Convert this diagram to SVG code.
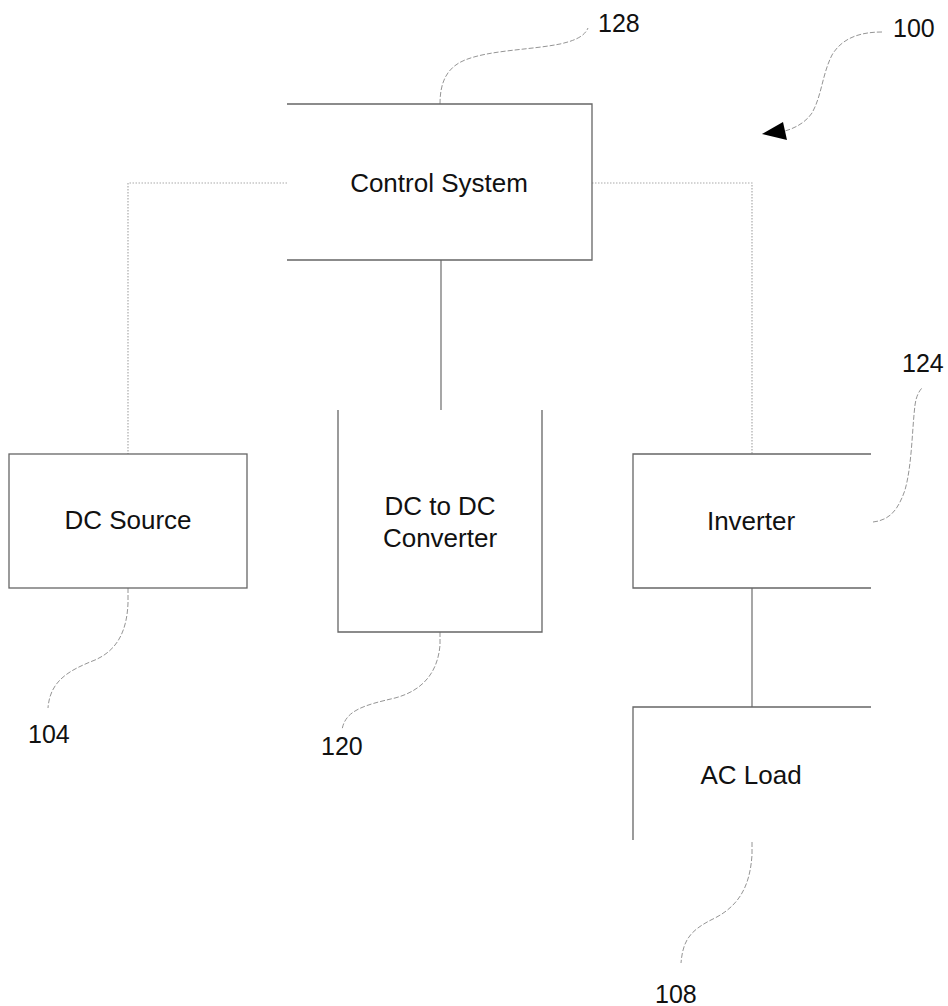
<svg xmlns="http://www.w3.org/2000/svg" width="948" height="1006" viewBox="0 0 948 1006">
<style>
.edge{fill:none;stroke:#666;stroke-width:1.3}
.lbl{font-family:"Liberation Sans",Arial,sans-serif;font-size:26px;fill:#111;text-anchor:middle}
.num{font-family:"Liberation Sans",Arial,sans-serif;font-size:25px;fill:#111}
.dot{fill:none;stroke:#aaa;stroke-width:1.2;stroke-dasharray:1.5,1.5}
.solid{fill:none;stroke:#777;stroke-width:1.3}
.lead{fill:none;stroke:#888;stroke-width:0.9;stroke-dasharray:5,2}
</style>
<rect width="948" height="1006" fill="#fff"/>
<g id="connectors">
<path class="dot" d="M287,183 H128 V454"/>
<path class="dot" d="M592,183 H752 V454"/>
<path class="solid" d="M441,260 V410"/>
<path class="solid" d="M752,588 V707"/>
<path class="lead" d="M440,104 C440,85 445,68 465,60 C490,50 530,50 560,44 C578,40 585,35 588,28"/>
<path class="lead" d="M882,32 C860,32 842,38 832,55 C822,75 822,95 812,113 C805,123 795,128 785,131"/>
<polygon points="762,134 783,122 787,140" fill="#000"/>
<path class="lead" d="M873,522 C890,520 898,510 905,490 C912,465 912,430 915,405 C916,397 919,391 922,388"/>
<path class="lead" d="M128,588 L128,603 C127,630 118,650 95,660 C70,670 50,680 48,708"/>
<path class="lead" d="M440,632 L440,645 C438,670 425,690 395,698 C365,705 345,710 342,730"/>
<path class="lead" d="M752,842 L752,855 C750,885 740,905 715,918 C690,930 683,940 681,963"/>
</g>
<g id="control-system">
<path class="edge" d="M287,104 H592 V260 H287"/>
<text class="lbl" x="439" y="192">Control System</text>
<text class="num" x="598" y="32">128</text>
</g>
<g id="system-100">
<text class="num" x="893" y="37">100</text>
</g>
<g id="dc-source">
<rect class="edge" x="9" y="454" width="238" height="134"/>
<text class="lbl" x="128" y="529">DC Source</text>
<text class="num" x="28" y="743">104</text>
</g>
<g id="dc-dc-converter">
<path class="edge" d="M338,410 V632 H542 V410"/>
<text class="lbl" x="440" y="515">DC to DC</text>
<text class="lbl" x="440" y="547">Converter</text>
<text class="num" x="321" y="755">120</text>
</g>
<g id="inverter">
<path class="edge" d="M871,454 H633 V588 H871"/>
<text class="lbl" x="751" y="530">Inverter</text>
<text class="num" x="902" y="372">124</text>
</g>
<g id="ac-load">
<path class="edge" d="M633,840 V707 H871"/>
<text class="lbl" x="751" y="784">AC Load</text>
<text class="num" x="655" y="1003">108</text>
</g>
</svg>
